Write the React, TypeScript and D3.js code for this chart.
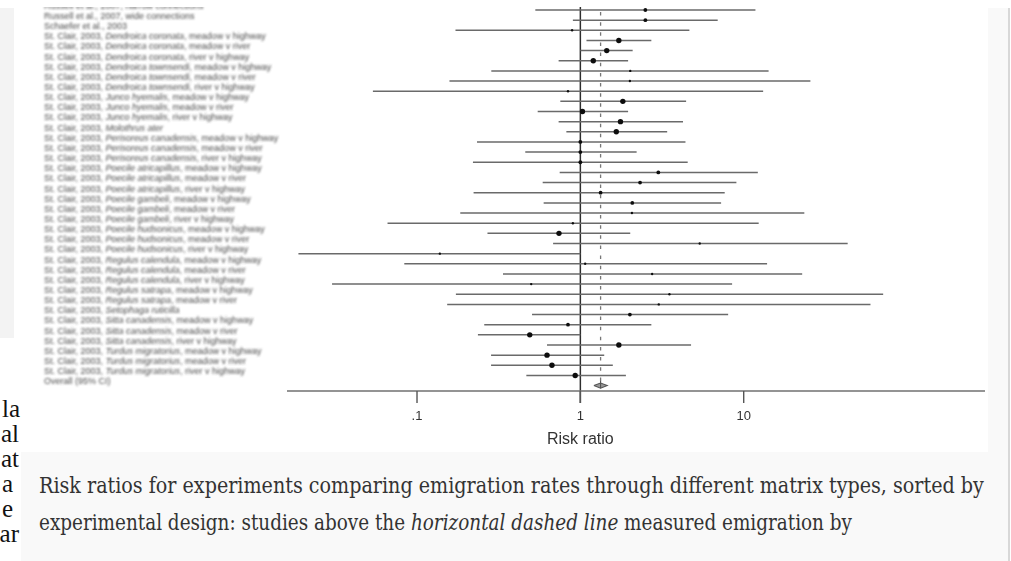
import React, { useLayoutEffect, useRef, useState } from "react";
import * as d3 from "d3";

// Study labels, one entry per row of the forest plot (top to bottom).
const sources = [
  "Russell et al., 2007, narrow connections",
  "Russell et al., 2007, wide connections",
  "Schaefer et al., 2003",
  "St. Clair, 2003,", "St. Clair, 2003,", "St. Clair, 2003,",
  "St. Clair, 2003,", "St. Clair, 2003,", "St. Clair, 2003,",
  "St. Clair, 2003,", "St. Clair, 2003,", "St. Clair, 2003,",
  "St. Clair, 2003,",
  "St. Clair, 2003,", "St. Clair, 2003,", "St. Clair, 2003,",
  "St. Clair, 2003,", "St. Clair, 2003,", "St. Clair, 2003,",
  "St. Clair, 2003,", "St. Clair, 2003,", "St. Clair, 2003,",
  "St. Clair, 2003,", "St. Clair, 2003,", "St. Clair, 2003,",
  "St. Clair, 2003,", "St. Clair, 2003,", "St. Clair, 2003,",
  "St. Clair, 2003,", "St. Clair, 2003,",
  "St. Clair, 2003,",
  "St. Clair, 2003,", "St. Clair, 2003,", "St. Clair, 2003,",
  "St. Clair, 2003,", "St. Clair, 2003,", "St. Clair, 2003,",
];

const species = [
  "", "", "",
  "Dendroica coronata", "Dendroica coronata", "Dendroica coronata",
  "Dendroica townsendi", "Dendroica townsendi", "Dendroica townsendi",
  "Junco hyemalis", "Junco hyemalis", "Junco hyemalis",
  "Molothrus ater",
  "Perisoreus canadensis", "Perisoreus canadensis", "Perisoreus canadensis",
  "Poecile atricapillus", "Poecile atricapillus", "Poecile atricapillus",
  "Poecile gambeli", "Poecile gambeli", "Poecile gambeli",
  "Poecile hudsonicus", "Poecile hudsonicus", "Poecile hudsonicus",
  "Regulus calendula", "Regulus calendula", "Regulus calendula",
  "Regulus satrapa", "Regulus satrapa",
  "Setophaga ruticilla",
  "Sitta canadensis", "Sitta canadensis", "Sitta canadensis",
  "Turdus migratorius", "Turdus migratorius", "Turdus migratorius",
];

const contrasts = [
  "", "", "",
  "meadow v highway", "meadow v river", "river v highway",
  "meadow v highway", "meadow v river", "river v highway",
  "meadow v highway", "meadow v river", "river v highway",
  "",
  "meadow v highway", "meadow v river", "river v highway",
  "meadow v highway", "meadow v river", "river v highway",
  "meadow v highway", "meadow v river", "river v highway",
  "meadow v highway", "meadow v river", "river v highway",
  "meadow v highway", "meadow v river", "river v highway",
  "meadow v highway", "meadow v river",
  "",
  "meadow v highway", "meadow v river", "river v highway",
  "meadow v highway", "meadow v river", "river v highway",
];

// Risk ratio point estimates with 95% confidence limits.
const riskRatio = [
  2.5, 2.5, 0.89, 1.72, 1.45, 1.2, 2.02, 2.01, 0.84, 1.82, 1.03, 1.76, 1.66,
  1.0, 1.0, 1.0, 3.0, 2.32, 1.33, 2.08, 2.07, 0.9, 0.74, 5.38, 0.138, 1.07,
  2.75, 0.5, 3.51, 3.02, 2.01, 0.84, 0.49, 1.72, 0.625, 0.67, 0.93,
];
const lowerCI = [
  0.53, 0.9, 0.172, 1.09, 1.0, 0.736, 0.285, 0.158, 0.0537, 0.754, 0.548,
  0.736, 0.821, 0.233, 0.46, 0.22, 0.747, 0.588, 0.222, 0.596, 0.184, 0.066,
  0.27, 0.681, 0.0188, 0.0836, 0.336, 0.0302, 0.173, 0.153, 0.506, 0.258,
  0.236, 0.625, 0.284, 0.284, 0.467,
];
const upperCI = [
  11.8, 6.93, 4.65, 2.72, 2.09, 1.96, 14.2, 25.6, 13.15, 4.44, 1.96, 4.25,
  3.4, 4.4, 2.21, 4.54, 12.2, 9.02, 7.65, 7.27, 23.5, 12.35, 2.02, 43.3, 1.0,
  13.9, 22.8, 8.49, 71.4, 59.7, 8.03, 2.72, 1.0, 4.76, 1.4, 1.58, 1.9,
];
// Relative study weight (1 = light, 3 = heavy) sets the marker size.
const weightClass = [
  2, 2, 1, 3, 3, 3, 1, 1, 1, 3, 3, 3, 3, 2, 2, 2, 2, 2, 2, 2, 1, 1, 3, 1, 1,
  1, 1, 1, 1, 1, 2, 2, 3, 3, 3, 3, 3,
];

const pooledLabel = "Overall (95% CI)";
const pooledEstimate = [1.33];
const pooledLimits = [1.21, 1.46];

const axisExtent = [0.016, 300];
const tickValues = [0.1, 1, 10];
const tickLabels = [".1", "1", "10"];
const axisTitle = "Risk ratio";

const captionLine1 =
  "Risk ratios for experiments comparing emigration rates through different matrix types, sorted by";
const captionLine2a = "experimental design: studies above the ";
const captionLine2b = "horizontal dashed line";
const captionLine2c = " measured emigration by";

// Line endings of the neighbouring text column.
const sideFragments = ["la", "al", "at", "a", "e", "ar"];

export default function App() {
  const W = 1011;
  const H = 561;
  const x = d3.scaleLog().domain(axisExtent).range([287, 985]);
  const y = d3.scaleLinear().domain([0, riskRatio.length]).range([10, 385.6]);
  const radius = d3.scaleOrdinal<number, number>().domain([1, 2, 3]).range([1.2, 1.9, 2.7]);

  // caption lines are squeezed horizontally to their set widths
  const capRef1 = useRef<SVGTextElement>(null);
  const capRef2 = useRef<SVGTextElement>(null);
  const capWidths = [945, 813];
  const [capScale, setCapScale] = useState([0.967, 0.87]);
  useLayoutEffect(() => {
    const refs = [capRef1.current, capRef2.current];
    const s = refs.map((el, i) => {
      if (!el) return 1;
      const w = el.getComputedTextLength();
      return w > 0 ? capWidths[i] / w : 1;
    });
    setCapScale(s);
  }, []);

  const axisY = 391;
  const x1 = x(1);
  const xPool = x(pooledEstimate[0]);
  const yPool = y(riskRatio.length);
  const dh = 2.6;
  const diamond = d3.line()([
    [x(pooledLimits[0]), yPool],
    [xPool, yPool - dh],
    [x(pooledLimits[1]), yPool],
    [xPool, yPool + dh],
    [x(pooledLimits[0]), yPool],
  ]);

  const sans = "'Liberation Sans', Arial, Helvetica, sans-serif";
  const serifCond = "'DejaVu Serif Condensed', 'DejaVu Serif', Georgia, serif";
  // ragged right edges of the neighbouring column's lines
  const fragmentEnds = [20, 19, 19, 13, 13, 19];

  return (
    <svg
      width={W}
      height={H}
      viewBox={`0 0 ${W} ${H}`}
      style={{ position: "absolute", left: 0, top: 0, background: "#fff" }}
    >
      <defs>
        <filter id="soft" x="-5%" y="-5%" width="110%" height="110%">
          <feGaussianBlur stdDeviation="0.55" />
        </filter>
        <filter id="softer" x="-5%" y="-5%" width="110%" height="110%">
          <feGaussianBlur stdDeviation="0.8" />
        </filter>
        <clipPath id="figClip">
          <rect x={14} y={7} width={980} height={450} />
        </clipPath>
      </defs>

      {/* page panel */}
      <rect x={0} y={0} width={W} height={H} fill="#fff" />
      <rect x={0} y={8} width={14} height={330} fill="#f3f3f3" />
      <rect x={21} y={8} width={987} height={H - 8} fill="#f9f9f9" />
      <rect x={1008} y={8} width={2} height={H - 8} fill="#d8d8d8" />
      <rect x={14} y={7} width={974} height={445} fill="#fff" />

      <g clipPath="url(#figClip)">
        {/* study labels */}
        <g filter="url(#softer)" fontFamily={sans} fontSize={9} fill="#4a4a4a">
          {sources.map((s, i) => (
            <text key={i} x={44} y={y(i) - 1.2}>
              {s}
              {species[i] ? (
                <tspan fontStyle="italic">{" " + species[i]}</tspan>
              ) : null}
              {contrasts[i] ? ", " + contrasts[i] : ""}
            </text>
          ))}
          <text x={44} y={yPool - 1.2}>
            {pooledLabel}
          </text>
        </g>

        <g filter="url(#soft)">
          {/* reference line at no effect */}
          <line x1={x1} x2={x1} y1={7} y2={axisY + 12} stroke="#2e2e2e" strokeWidth={1.5} />
          {/* pooled estimate */}
          <line
            x1={xPool}
            x2={xPool}
            y1={7}
            y2={yPool - dh}
            stroke="#777"
            strokeWidth={1.3}
            strokeDasharray="3.5 6.65"
            strokeDashoffset={-5}
          />

          {/* confidence intervals */}
          {riskRatio.map((v, i) => (
            <line
              key={"ci" + i}
              x1={x(lowerCI[i])}
              x2={x(upperCI[i])}
              y1={y(i)}
              y2={y(i)}
              stroke="#6a6a6a"
              strokeWidth={1.5}
            />
          ))}
          {riskRatio.map((v, i) => (
            <circle key={"pt" + i} cx={x(v)} cy={y(i)} r={radius(weightClass[i])} fill="#111" />
          ))}

          <path d={diamond || ""} fill="#9a9a9a" stroke="#555" strokeWidth={1.1} />
          <line x1={xPool} x2={xPool} y1={yPool - dh - 2} y2={yPool + dh} stroke="#555" strokeWidth={1.1} />

          {/* axis */}
          <line x1={x(axisExtent[0])} x2={x(axisExtent[1])} y1={axisY} y2={axisY} stroke="#707070" strokeWidth={1.6} />
          {tickValues.map((t, i) => (
            <g key={"t" + i}>
              <line x1={x(t)} x2={x(t)} y1={axisY} y2={axisY + 12} stroke="#555" strokeWidth={1.4} />
              <text x={x(t)} y={420} textAnchor="middle" fontFamily={sans} fontSize={13} fill="#333">
                {tickLabels[i]}
              </text>
            </g>
          ))}
          <text x={x1} y={444} textAnchor="middle" fontFamily={sans} fontSize={16} fill="#333">
            {axisTitle}
          </text>
        </g>
      </g>

      {/* caption */}
      <g fontFamily={serifCond} fontSize={22} fill="#333">
        <g transform={`translate(39,493) scale(${capScale[0]},1)`}>
          <text ref={capRef1} x={0} y={0}>
            {captionLine1}
          </text>
        </g>
        <g transform={`translate(39,530) scale(${capScale[1]},1)`}>
          <text ref={capRef2} x={0} y={0}>
            {captionLine2a}
            <tspan fontStyle="italic">{captionLine2b}</tspan>
            {captionLine2c}
          </text>
        </g>
      </g>

      {/* neighbouring column */}
      <g fontFamily="'Liberation Serif', 'Times New Roman', serif" fontSize={25} fill="#111">
        {sideFragments.map((f, i) => (
          <text key={i} x={fragmentEnds[i]} y={417 + i * 25} textAnchor="end">
            {f}
          </text>
        ))}
      </g>
    </svg>
  );
}
